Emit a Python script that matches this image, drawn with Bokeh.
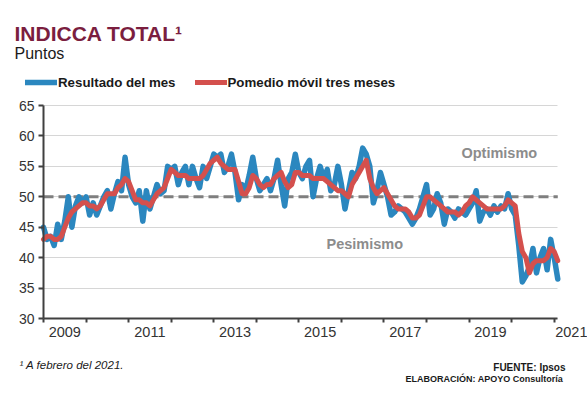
from bokeh.plotting import figure
from bokeh.models import Range1d, FixedTicker, Label, Legend, LegendItem, LinearAxis
from bokeh.embed import file_html
from bokeh.resources import INLINE

# ---------------- data ----------------
start_year = 2009
resultado = [
    45, 43, 43.5, 42, 45.5, 43, 46, 50, 45, 48.5, 50, 49,            # 2009
    50, 47, 49, 47, 48.5, 50, 51, 48, 50.5, 52.5, 51, 56.5,          # 2010
    52, 50, 49, 51, 46, 51, 48, 50, 52, 50.5, 51, 55,                # 2011
    54.5, 55, 52, 54, 55, 52, 55, 53, 51.5, 55, 53, 55,              # 2012
    57, 56.5, 57, 54, 55, 57, 54, 49.5, 52, 51, 53.5, 56.5,          # 2013
    53, 51, 52, 53, 51, 53, 56, 52, 48.5, 53, 54, 57,                # 2014
    54, 53, 55, 56, 50, 53, 55, 53, 54.5, 51, 52, 55,                # 2015
    52, 48, 51, 54, 53, 55, 58, 57, 55, 49, 51, 54,                  # 2016
    52, 50, 47, 47.5, 48.5, 48, 47.5, 46.5, 45.5, 46.5, 48, 50,      # 2017
    52, 47, 48, 50.5, 49, 45.5, 48, 47.5, 46.5, 48, 47.5, 47,        # 2018
    48, 49, 51, 46, 47.5, 48, 47, 48.5, 47.5, 48.5, 48, 50.5,        # 2019
    48, 47, 42, 36, 37, 38.5, 41.5, 37.5, 40, 41.5, 38, 43,          # 2020
    40, 36.5,                                                        # 2021
]
promedio = [
    43, 43.5, 43.5, 43, 43, 43.5, 45, 46.5, 47.5, 48, 48.5, 49,      # 2009
    49, 48.5, 48.5, 48, 48.5, 49.5, 50.5, 50.5, 50.5, 51.5, 52, 53,  # 2010
    52.5, 51, 49.5, 49.5, 49, 49, 48.5, 49.5, 50.5, 51, 51.5, 53,    # 2011
    54.5, 54, 53.5, 53.5, 53.5, 53, 53, 53, 53, 53.5, 54.5, 55.5,    # 2012
    56, 56.5, 55.5, 55, 54.5, 54.5, 54.5, 52.5, 50.5, 50.5, 51.5, 53.5,  # 2013
    53, 52, 51.5, 52, 52, 53, 53.5, 54, 52.5, 51.5, 52, 54,          # 2014
    54, 53.5, 53.5, 53.5, 53, 53, 53, 53, 52.5, 52, 51.5, 51,        # 2015
    51, 50.5, 50, 52, 53, 54, 55, 56, 53, 51.5, 50.5, 51,            # 2016
    51.5, 50.5, 49.5, 48.5, 48, 48, 48, 47.5, 46.5, 46.5, 47, 48.5,  # 2017
    50, 50, 49.5, 49, 48.5, 48, 47.5, 47.5, 47.5, 47, 47.5, 48.5,    # 2018
    49, 50, 49.5, 49, 48.5, 48, 48, 48, 48, 48, 48.5, 49.5,          # 2019
    49, 48.5, 44, 41, 40, 37.5, 39, 39.5, 39.5, 39.5, 40, 41.5,      # 2020
    41, 39.5,                                                        # 2021
]
year_ticks = list(range(2009, 2022))
label_years = [2009, 2011, 2013, 2015, 2017, 2019, 2021]
y_ticks = [30, 35, 40, 45, 50, 55, 60, 65]
neutral_level = 50

x = [start_year + i / 12 for i in range(len(resultado))]

# ---------------- layout / style ----------------
FONT = "Liberation Sans"
BLUE = "#2B87BF"
RED = "#D4504D"
MAROON = "#7B1E3F"
AXIS = "#404040"
TXT = "#333333"
DARK = "#1a1a1a"
W, H = 587, 394
PLOT_LEFT, PLOT_TOP, PLOT_BOTTOM = 43, 105, 318      # pixel position of the plot area
PX_PER_YEAR = 42.56
PX_PER_UNIT = (PLOT_BOTTOM - PLOT_TOP) / (y_ticks[-1] - y_ticks[0])

X0 = start_year - PLOT_LEFT / PX_PER_YEAR
X1 = X0 + W / PX_PER_YEAR
Y1 = y_ticks[-1] + PLOT_TOP / PX_PER_UNIT
Y0 = Y1 - H / PX_PER_UNIT

p = figure(width=W, height=H, output_backend="svg", toolbar_location=None,
           x_range=Range1d(X0, X1), y_range=Range1d(Y0, Y1), min_border=0)
p.outline_line_color = None
p.background_fill_color = "white"
p.border_fill_color = "white"

# x axis line + yearly tick marks over the data span
xa = p.xaxis[0]
xa.fixed_location = y_ticks[0]
xa.ticker = FixedTicker(ticks=[], minor_ticks=year_ticks)
xa.bounds = (x[0], x[-1])
xa.major_tick_out = 0
xa.major_tick_in = 0
xa.minor_tick_line_color = AXIS
xa.minor_tick_line_width = 2
xa.minor_tick_out = 4
xa.minor_tick_in = 0
xa.axis_line_color = AXIS
xa.axis_line_width = 2

# year labels centred in their year
label_pos = [min(y + 0.5, X1 - 0.38) for y in label_years]
xb = LinearAxis(fixed_location=y_ticks[0], ticker=FixedTicker(ticks=label_pos),
                major_label_overrides={pos: str(y) for pos, y in zip(label_pos, label_years)},
                axis_line_color=None, major_tick_line_color=None,
                minor_tick_line_color=None, major_tick_out=0, major_tick_in=0,
                major_label_standoff=8, major_label_text_font=FONT,
                major_label_text_font_size="14.5px", major_label_text_color=TXT)
p.add_layout(xb, "below")

ya = p.yaxis[0]
ya.fixed_location = start_year
ya.ticker = FixedTicker(ticks=y_ticks)
ya.bounds = (y_ticks[0], y_ticks[-1])
ya.minor_tick_line_color = None
ya.major_tick_line_color = AXIS
ya.major_tick_line_width = 2
ya.major_tick_out = 5
ya.major_tick_in = 0
ya.major_label_standoff = 4
ya.axis_line_color = AXIS
ya.axis_line_width = 2
ya.major_label_text_font = FONT
ya.major_label_text_font_size = "14px"
ya.major_label_text_color = TXT

p.xgrid.visible = False
p.ygrid.ticker = FixedTicker(ticks=y_ticks)
p.ygrid.bounds = (y_ticks[0], y_ticks[-1])
p.ygrid.grid_line_color = "#D6D6D6"
p.ygrid.grid_line_width = 1
p.ygrid.cross_bounds = (x[0], x[-1])

p.line([x[0], x[-1]], [neutral_level, neutral_level], line_color="#7F7F7F",
       line_width=3, line_dash="10 5")

r_blue = p.line(x, resultado, line_width=5.5, color=BLUE, line_join="round", line_cap="round")
r_red = p.line(x, promedio, line_width=5, color=RED, line_join="round", line_cap="round")

p.add_layout(Label(x=2019.71, y=57.2, text="Optimismo", text_align="center",
                   text_baseline="middle", text_font=FONT, text_font_size="14.5px",
                   text_font_style="bold", text_color="#8C8C8C"))
p.add_layout(Label(x=2016.55, y=42.3, text="Pesimismo", text_align="center",
                   text_baseline="middle", text_font=FONT, text_font_size="14.5px",
                   text_font_style="bold", text_color="#8C8C8C"))

# legend
legend = Legend(items=[LegendItem(label="Resultado del mes", renderers=[r_blue]),
                       LegendItem(label="Pomedio móvil tres meses", renderers=[r_red])],
                orientation="horizontal", location=(25, H - 89.5),
                glyph_width=32, glyph_height=14, label_height=14, label_standoff=1,
                spacing=19, padding=0, margin=0, border_line_color=None,
                background_fill_alpha=0, label_text_font=FONT,
                label_text_font_size="13.3px", label_text_font_style="bold",
                label_text_color=DARK)
p.add_layout(legend)

# title, subtitle, footnotes (pixel positions from the top-left corner)
def page_label(px, py, text, size, style="normal", color=DARK, align="left"):
    p.add_layout(Label(x=px, y=H - py, x_units="screen", y_units="screen", text=text,
                       text_font=FONT, text_font_size=size, text_font_style=style,
                       text_color=color, text_align=align, text_baseline="alphabetic"))

page_label(14, 33, "INDICCA TOTAL¹", "21px", "bold", MAROON)
page_label(14, 53, "Puntos", "16px")
page_label(19, 364, "¹ A febrero del 2021.", "11.5px", "italic")
page_label(565, 367, "FUENTE: Ipsos", "10px", "bold", align="right")
page_label(565, 378, "ELABORACIÓN: APOYO  Consultoría", "9px", "bold", align="right")

open("out.html", "w").write(file_html(p, INLINE))
